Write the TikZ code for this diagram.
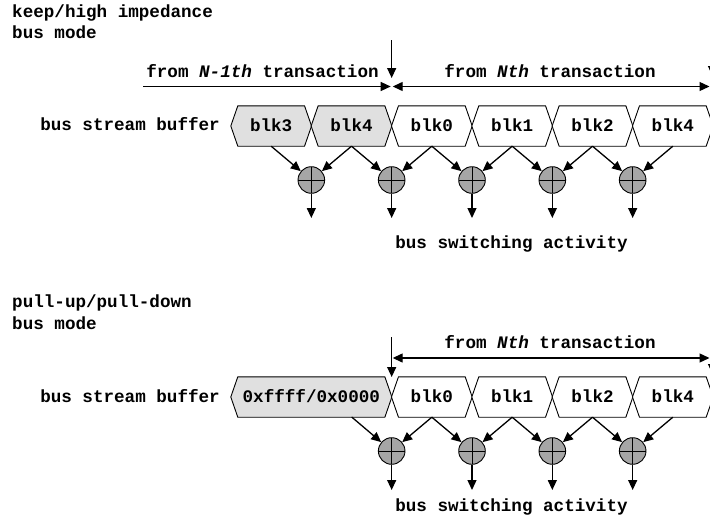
\documentclass[tikz,border=0pt]{standalone}
\usepackage{fontspec}
\setmonofont{Liberation Mono}
\usetikzlibrary{arrows.meta,backgrounds}

% outline of a hexagonal buffer cell around a named node
\newcommand\hexoutline[2]{%
  \path[hexline,fill=#2] (#1.west) -- ([xshift=7pt]#1.north west)
    -- ([xshift=-7pt]#1.north east) -- (#1.east)
    -- ([xshift=-7pt]#1.south east) -- ([xshift=7pt]#1.south west) -- cycle;}

\begin{document}
\begin{tikzpicture}[x=1pt,y=-1pt,
  every node/.style={font=\ttfamily\bfseries\fontsize{17.6}{20}\selectfont,inner sep=0pt},
  cell/.style={minimum width=80.33pt,minimum height=40pt,text height=11pt,text depth=0pt},
  widecell/.style={cell,minimum width=160.67pt},
  hexline/.style={draw=black,line width=0.9pt},
  xorgate/.style={circle,draw,line width=0.9pt,fill=black!35,minimum size=26.6pt,
    path picture={\draw[line width=0.9pt]
      (path picture bounding box.north) -- (path picture bounding box.south)
      (path picture bounding box.west) -- (path picture bounding box.east);}},
  flow/.style={line width=1.3pt,-{Triangle[length=10pt,width=9pt]}},
  span/.style={line width=1.3pt,{Triangle[length=10pt,width=9pt]}-{Triangle[length=10pt,width=9pt]}},
  shade/.style={black!12},
  plain/.style={white}]
\useasboundingbox (0,0) rectangle (710,517);

% ---------------- keep / high impedance bus mode ----------------
\node[anchor=base west] (m1) at (12,17) {keep/high impedance};
\node[anchor=base west] (m2) at (12,38) {bus mode};

\node[anchor=base] (lprev) at (262.5,77) {from \textit{N-1th} transaction};
\node[anchor=base] (lcur) at (550,77) {from \textit{Nth} transaction};

\coordinate (ha) at (143,86.5);
\coordinate (hb) at (390.7,86.5);
\coordinate (hc) at (392.7,86.5);
\coordinate (hd) at (709.5,86.5);
\draw[flow] (ha) -- (hb);
\draw[span] (hc) -- (hd);

\coordinate (da) at (391.67,40);
\coordinate (db) at (391.67,78);
\coordinate (ea) at (712.5,40);
\coordinate (eb) at (712.5,76);
\draw[flow] (da) -- (db);
\draw[flow] (ea) -- (eb);

\node[anchor=base east] (sb1) at (220,130) {bus stream buffer};

\node[cell] (a1) at (271.17,126) {blk3};
\node[cell] (a2) at (351.50,126) {blk4};
\node[cell] (a3) at (431.83,126) {blk0};
\node[cell] (a4) at (512.17,126) {blk1};
\node[cell] (a5) at (592.50,126) {blk2};
\node[cell] (a6) at (672.83,126) {blk4};
\begin{scope}[on background layer]
  \hexoutline{a1}{black!12}
  \hexoutline{a2}{black!12}
  \hexoutline{a3}{white}
  \hexoutline{a4}{white}
  \hexoutline{a5}{white}
  \hexoutline{a6}{white}
\end{scope}

\foreach \k/\x in {1/311.33,2/391.67,3/472.00,4/552.33,5/632.67}{
  \node[xorgate] (g\k) at (\x,180) {};
  \coordinate (o\k) at (\x,218);
  \draw[flow] (g\k) -- (o\k);
}
\draw[flow] (a1.south) -- (g1);
\draw[flow] (a2.south) -- (g1);
\draw[flow] (a2.south) -- (g2);
\draw[flow] (a3.south) -- (g2);
\draw[flow] (a3.south) -- (g3);
\draw[flow] (a4.south) -- (g3);
\draw[flow] (a4.south) -- (g4);
\draw[flow] (a5.south) -- (g4);
\draw[flow] (a5.south) -- (g5);
\draw[flow] (a6.south) -- (g5);

\node[anchor=base] (act1) at (511.5,248) {bus switching activity};

% ---------------- pull-up / pull-down bus mode ----------------
\node[anchor=base west] (p1) at (12,307) {pull-up/pull-down};
\node[anchor=base west] (p2) at (12,329) {bus mode};

\node[anchor=base] (lcur2) at (550,348) {from \textit{Nth} transaction};
\coordinate (hf) at (392.7,358);
\coordinate (hg) at (709.5,358);
\draw[span] (hf) -- (hg);

\coordinate (fa) at (391.67,337);
\coordinate (fb) at (391.67,377);
\coordinate (ka) at (712.5,337);
\coordinate (kb) at (712.5,374);
\draw[flow] (fa) -- (fb);
\draw[flow] (ka) -- (kb);

\node[anchor=base east] (sb2) at (220,402) {bus stream buffer};

\node[widecell] (b1) at (311.33,397) {0xffff/0x0000};
\node[cell] (b2) at (431.83,397) {blk0};
\node[cell] (b3) at (512.17,397) {blk1};
\node[cell] (b4) at (592.50,397) {blk2};
\node[cell] (b5) at (672.83,397) {blk4};
\begin{scope}[on background layer]
  \hexoutline{b1}{black!12}
  \hexoutline{b2}{white}
  \hexoutline{b3}{white}
  \hexoutline{b4}{white}
  \hexoutline{b5}{white}
\end{scope}
\coordinate (b1r) at (351.67,417);

\foreach \k/\x in {1/391.67,2/472.00,3/552.33,4/632.67}{
  \node[xorgate] (q\k) at (\x,451) {};
  \coordinate (r\k) at (\x,490);
  \draw[flow] (q\k) -- (r\k);
}
\draw[flow] (b1r) -- (q1);
\draw[flow] (b2.south) -- (q1);
\draw[flow] (b2.south) -- (q2);
\draw[flow] (b3.south) -- (q2);
\draw[flow] (b3.south) -- (q3);
\draw[flow] (b4.south) -- (q3);
\draw[flow] (b4.south) -- (q4);
\draw[flow] (b5.south) -- (q4);

\node[anchor=base] (act2) at (511.5,511.5) {bus switching activity};
\end{tikzpicture}
\end{document}
